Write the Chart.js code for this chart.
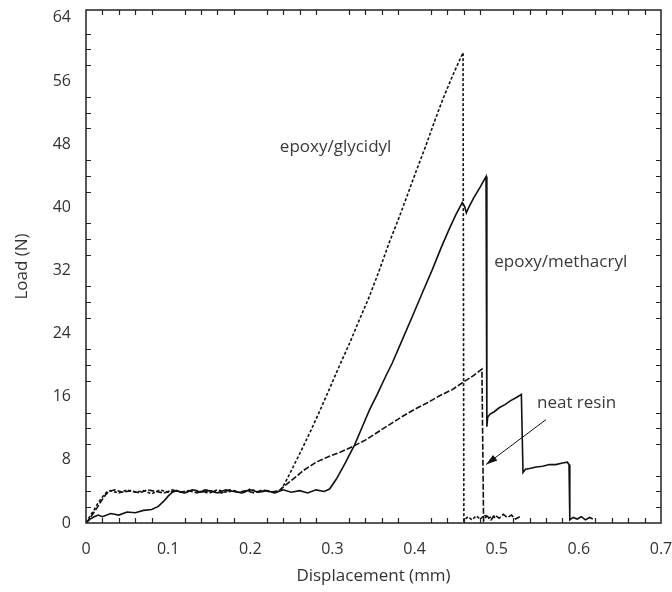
<!DOCTYPE html>
<html lang="en">
<head>
<meta charset="UTF-8">
<title>Load vs Displacement</title>
<script src="https://cdn.jsdelivr.net/npm/chart.js"></script>
<style>
  html, body { margin: 0; padding: 0; background: #fff; }
  canvas { display: block; }
</style>
</head>
<body>
<canvas id="loadChart" width="672" height="592"></canvas>
<script>
// tick labels
const xTicks = [0, 0.1, 0.2, 0.3, 0.4, 0.5, 0.6, 0.7];
const yTicks = [0, 8, 16, 24, 32, 40, 48, 56, 64];

// epoxy/glycidyl trace (dotted)
const glycidylX = [0, 0.005, 0.01, 0.015, 0.02, 0.025, 0.03,
  0.04, 0.05, 0.06, 0.07, 0.08, 0.09, 0.10, 0.11, 0.12, 0.13, 0.14, 0.15, 0.16, 0.17, 0.18, 0.19, 0.20, 0.21, 0.22, 0.23,
  0.238, 0.245, 0.255, 0.264, 0.275, 0.285, 0.296, 0.308, 0.321, 0.333, 0.345, 0.357, 0.369, 0.38, 0.39, 0.402, 0.413, 0.424, 0.434, 0.446, 0.452, 0.459,
  0.46, 0.465, 0.47, 0.475, 0.48, 0.485, 0.49, 0.495, 0.50];
const glycidylY = [0, 0.9, 1.7, 2.6, 3.3, 3.9, 4.1,
  3.8, 4.2, 3.9, 4.1, 3.7, 4.2, 3.9, 4.1, 3.8, 4.2, 4.0, 3.8, 4.2, 3.9, 4.1, 3.8, 4.3, 3.9, 4.1, 3.8,
  4.3, 5.6, 7.7, 9.6, 12.0, 14.3, 16.9, 19.8, 22.8, 25.8, 28.7, 32.0, 35.5, 38.4, 41.2, 44.6, 47.6, 50.8, 53.6, 56.6, 58.0, 59.6,
  0.3, 0.8, 0.4, 0.9, 0.5, 1.0, 0.6, 0.9, 0.5];

// neat resin trace (dashed)
const neatX = [0, 0.006, 0.012, 0.018, 0.024, 0.028,
  0.035, 0.045, 0.055, 0.065, 0.075, 0.085, 0.095, 0.105, 0.115, 0.125, 0.135, 0.145, 0.155, 0.165, 0.175, 0.185, 0.195, 0.205, 0.215, 0.225, 0.235,
  0.244, 0.255, 0.264, 0.28, 0.295, 0.31, 0.325, 0.34, 0.355, 0.37, 0.385, 0.40, 0.415, 0.43, 0.446, 0.46, 0.472, 0.482,
  0.484, 0.488, 0.493, 0.498, 0.503, 0.508, 0.513, 0.518, 0.523, 0.528];
const neatY = [0, 0.8, 1.7, 2.7, 3.6, 4.0,
  4.2, 3.9, 4.1, 3.8, 4.2, 4.0, 3.8, 4.2, 3.9, 4.1, 3.8, 4.2, 4.0, 3.8, 4.2, 3.9, 4.1, 3.8, 4.2, 3.9, 4.1,
  4.9, 5.8, 6.6, 7.7, 8.4, 9.0, 9.7, 10.5, 11.5, 12.5, 13.5, 14.4, 15.2, 16.1, 16.9, 17.9, 18.7, 19.5,
  0.3, 0.9, 0.4, 1.0, 0.6, 1.1, 0.7, 1.0, 0.5, 0.8];

// epoxy/methacryl trace (solid)
const methacrylX = [0, 0.005, 0.01, 0.015, 0.02,
  0.03, 0.04, 0.05, 0.06, 0.07, 0.08, 0.088, 0.095, 0.10, 0.105,
  0.11, 0.12, 0.13, 0.14, 0.15, 0.16, 0.17, 0.18, 0.19, 0.20, 0.21, 0.22, 0.23, 0.24, 0.25, 0.26, 0.27, 0.28, 0.29,
  0.2965, 0.305, 0.315, 0.327, 0.336, 0.345, 0.355, 0.364, 0.373, 0.385, 0.397, 0.41, 0.4216, 0.432, 0.442, 0.45, 0.458,
  0.461, 0.463, 0.466, 0.472, 0.48, 0.487,
  0.488, 0.489, 0.492, 0.497, 0.503, 0.51, 0.517, 0.524, 0.53,
  0.532, 0.535, 0.54, 0.548, 0.556, 0.564, 0.572, 0.58, 0.586, 0.588,
  0.589, 0.593, 0.598, 0.603, 0.608, 0.613, 0.617];
const methacrylY = [0, 0.5, 0.8, 1.0, 0.8,
  1.2, 1.0, 1.4, 1.3, 1.6, 1.7, 2.1, 2.8, 3.4, 3.9,
  4.1, 3.8, 4.2, 3.9, 4.1, 3.8, 4.2, 4.0, 3.8, 4.2, 3.9, 4.1, 3.8, 4.2, 3.9, 4.1, 3.8, 4.2, 4.0,
  4.3, 5.6, 7.5, 9.9, 12.1, 14.3, 16.4, 18.4, 20.3, 23.2, 26.1, 29.3, 32.1, 34.8, 37.2, 39.0, 40.6,
  40.1, 39.3, 40.0, 41.2, 42.6, 43.9,
  12.2, 13.4, 13.8, 14.1, 14.6, 15.0, 15.5, 15.9, 16.3,
  6.4, 6.8, 6.9, 7.1, 7.2, 7.4, 7.4, 7.6, 7.7, 7.4,
  0.4, 0.7, 0.5, 0.8, 0.4, 0.7, 0.5];

// text labels in data coordinates (left edge, middle)
const noteText = ['epoxy/glycidyl', 'epoxy/methacryl', 'neat resin'];
const noteX = [0.236, 0.497, 0.549];
const noteY = [47.6, 33.1, 15.2];
// arrow for neat resin: tail -> tip
const arrowX = [0.560, 0.487];
const arrowY = [13.1, 7.4];

function toPoints(xs, ys) {
  return xs.map((v, i) => ({ x: v, y: ys[i] }));
}

const textFont = '17px "Open Sans"';
const tickFont = { family: 'Open Sans', size: 16 };

// box, inward minor ticks, notes and the arrow
const frameTicks = {
  id: 'frameTicks',
  afterDatasetsDraw(chart) {
    const { ctx, chartArea: a, scales: { x, y } } = chart;
    ctx.save();
    ctx.strokeStyle = '#222';
    ctx.lineWidth = 1.5;
    ctx.strokeRect(a.left, a.top, a.right - a.left, a.bottom - a.top);

    ctx.lineWidth = 1.2;
    ctx.beginPath();
    for (let i = 1; i < 35; i++) {
      if (i % 5 === 0) continue;
      const px = Math.round(x.getPixelForValue(i * 0.02)) + 0.5;
      ctx.moveTo(px, a.bottom); ctx.lineTo(px, a.bottom - 5);
      ctx.moveTo(px, a.top); ctx.lineTo(px, a.top + 5);
    }
    for (let v = 2; v < 65; v += 2) {
      if (v % 8 === 0) continue;
      const py = Math.round(y.getPixelForValue(v)) + 0.5;
      ctx.moveTo(a.left, py); ctx.lineTo(a.left + 5, py);
      ctx.moveTo(a.right, py); ctx.lineTo(a.right - 5, py);
    }
    ctx.stroke();

    ctx.fillStyle = '#3a3a3a';
    ctx.font = textFont;
    ctx.textAlign = 'left';
    ctx.textBaseline = 'middle';
    noteText.forEach((t, i) => {
      ctx.fillText(t, x.getPixelForValue(noteX[i]), y.getPixelForValue(noteY[i]));
    });

    const x0 = x.getPixelForValue(arrowX[0]), y0 = y.getPixelForValue(arrowY[0]);
    const x1 = x.getPixelForValue(arrowX[1]), y1 = y.getPixelForValue(arrowY[1]);
    const ang = Math.atan2(y1 - y0, x1 - x0);
    ctx.strokeStyle = '#111';
    ctx.lineWidth = 1;
    ctx.beginPath();
    ctx.moveTo(x0, y0);
    ctx.lineTo(x1, y1);
    ctx.stroke();
    ctx.fillStyle = '#111';
    ctx.beginPath();
    ctx.moveTo(x1, y1);
    ctx.lineTo(x1 - 12 * Math.cos(ang - 0.3), y1 - 12 * Math.sin(ang - 0.3));
    ctx.lineTo(x1 - 12 * Math.cos(ang + 0.3), y1 - 12 * Math.sin(ang + 0.3));
    ctx.closePath();
    ctx.fill();
    ctx.restore();
  }
};

const lineBase = { pointRadius: 0, borderColor: '#111', tension: 0, fill: false };

new Chart(document.getElementById('loadChart'), {
  type: 'line',
  data: {
    datasets: [
      Object.assign({ label: 'epoxy/glycidyl', data: toPoints(glycidylX, glycidylY), borderWidth: 1.6, borderDash: [3, 2] }, lineBase),
      Object.assign({ label: 'neat resin', data: toPoints(neatX, neatY), borderWidth: 1.6, borderDash: [6, 2] }, lineBase),
      Object.assign({ label: 'epoxy/methacryl', data: toPoints(methacrylX, methacrylY), borderWidth: 1.6 }, lineBase)
    ]
  },
  options: {
    responsive: false,
    animation: false,
    devicePixelRatio: 1,
    layout: { padding: { top: 10, right: 11, left: 0, bottom: 0 } },
    plugins: { legend: { display: false }, tooltip: { enabled: false } },
    scales: {
      x: {
        type: 'linear', min: 0, max: 0.7,
        grid: { display: false, drawTicks: false },
        border: { display: false },
        afterBuildTicks: s => { s.ticks = xTicks.map(v => ({ value: v })); },
        ticks: { font: tickFont, color: '#333', padding: 17, maxRotation: 0, autoSkip: false, callback: v => String(v) },
        title: { display: true, text: 'Displacement (mm)', font: { family: 'Open Sans', size: 17 }, color: '#333', padding: { top: 0, bottom: 6 } },
        afterFit: s => { s.height = 69; s.paddingLeft = 0; s.paddingRight = 0; }
      },
      y: {
        type: 'linear', min: 0, max: 65,
        grid: { display: false, drawTicks: false },
        border: { display: false },
        afterBuildTicks: s => { s.ticks = yTicks.map(v => ({ value: v })); },
        ticks: { font: tickFont, color: '#333', padding: 15, autoSkip: false },
        title: { display: true, text: 'Load (N)', font: { family: 'Open Sans', size: 17 }, color: '#333', padding: { top: 12, bottom: 0 } },
        afterFit: s => { s.width = 86; s.paddingTop = 0; s.paddingBottom = 0; }
      }
    }
  },
  plugins: [frameTicks]
});
</script>
</body>
</html>
